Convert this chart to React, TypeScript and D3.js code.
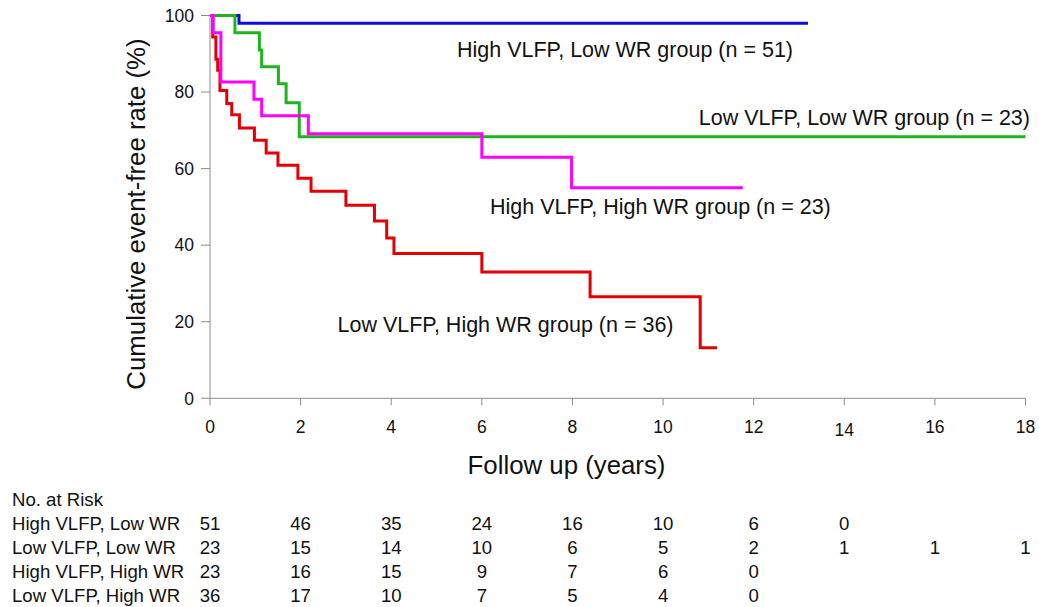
import React from "react";
import * as d3 from "d3";

// ---- Data ----
const xTicks = [0, 2, 4, 6, 8, 10, 12, 14, 16, 18];
const yTicks = [0, 20, 40, 60, 80, 100];

const groupNames = [
  "High VLFP, Low WR group (n = 51)",
  "Low VLFP, Low WR group (n = 23)",
  "High VLFP, High WR group (n = 23)",
  "Low VLFP, High WR group (n = 36)",
];
const groupColors = ["#0c0cdc", "#1eb41e", "#ff00ff", "#e40000"];

// Kaplan-Meier step curves: times (years) and event-free rate (%)
const highLowTimes = [0, 0.64, 13.2];
const highLowRates = [100, 98.0, 98.0];

const lowLowTimes = [0, 0.55, 1.09, 1.14, 1.51, 1.68, 1.97, 18];
const lowLowRates = [100, 95.5, 91.0, 86.6, 82.2, 77.2, 68.3, 68.3];

const highHighTimes = [0, 0.07, 0.24, 0.97, 1.14, 2.17, 6.0, 7.98, 11.76];
const highHighRates = [100, 95.5, 82.6, 78.1, 73.8, 69.1, 63.0, 55.0, 55.0];

const lowHighTimes = [0, 0.06, 0.13, 0.17, 0.22, 0.37, 0.48, 0.65, 0.98, 1.24, 1.5, 1.94, 2.23, 3.0, 3.63, 3.9, 4.06, 6.0, 8.39, 10.82, 11.19];
const lowHighRates = [100, 94.4, 88.6, 85.7, 80.4, 77.0, 74.1, 70.6, 67.4, 64.1, 60.9, 57.5, 54.1, 50.4, 46.3, 41.9, 37.8, 33.0, 26.5, 13.2, 13.2];

// Number at risk table
const riskTitle = "No. at Risk";
const riskLabels = ["High VLFP, Low WR", "Low VLFP, Low WR", "High VLFP, High WR", "Low VLFP, High WR"];
const riskHighLow = [51, 46, 35, 24, 16, 10, 6, 0];
const riskLowLow = [23, 15, 14, 10, 6, 5, 2, 1, 1, 1];
const riskHighHigh = [23, 16, 15, 9, 7, 6, 0];
const riskLowHigh = [36, 17, 10, 7, 5, 4, 0];

const yTitle = "Cumulative event-free rate (%)";
const xTitle = "Follow up (years)";

export default function App() {
  const W = 1039;
  const H = 607;
  const x = d3.scaleLinear().domain([0, 18]).range([210, 1025.5]);
  const y = d3.scaleLinear().domain([0, 100]).range([398.3, 15.5]);

  const series = [
    { t: highLowTimes, s: highLowRates, c: groupColors[0] },
    { t: lowHighTimes, s: lowHighRates, c: groupColors[3] },
    { t: lowLowTimes, s: lowLowRates, c: groupColors[1] },
    { t: highHighTimes, s: highHighRates, c: groupColors[2] },
  ];

  const line = d3
    .line<[number, number]>()
    .x((d) => x(d[0]))
    .y((d) => y(d[1]))
    .curve(d3.curveStepAfter);

  const risks = [riskHighLow, riskLowLow, riskHighHigh, riskLowHigh];

  const labelPos = [
    { x: 457, y: 57, anchor: "start" },
    { x: 1030, y: 125, anchor: "end" },
    { x: 490, y: 213.5, anchor: "start" },
    { x: 337.5, y: 331.5, anchor: "start" },
  ];

  const font = "'Liberation Sans', Arial, Helvetica, sans-serif";
  const axisColor = "#8c8c8c";
  const rowY0 = 529.5;
  const rowStep = 24.3;

  return (
    <svg
      width={W}
      height={H}
      style={{ position: "absolute", left: 0, top: 0, background: "#fff" }}
      fontFamily={font}
    >
      {/* axes */}
      <line x1={x(0)} x2={x(0)} y1={y(100)} y2={y(0)} stroke={axisColor} strokeWidth={1} />
      <line x1={x(0)} x2={x(18)} y1={y(0)} y2={y(0)} stroke={axisColor} strokeWidth={1} />
      {yTicks.map((v) => (
        <g key={"yt" + v}>
          <line x1={x(0) - 9} x2={x(0)} y1={y(v)} y2={y(v)} stroke={axisColor} strokeWidth={1} />
          <text x={x(0) - 16} y={y(v) + 6.3} textAnchor="end" fontSize={17.5} fill="#111">
            {v}
          </text>
        </g>
      ))}
      {xTicks.map((v) => (
        <g key={"xt" + v}>
          <line x1={x(v)} x2={x(v)} y1={y(0)} y2={y(0) + 7} stroke={axisColor} strokeWidth={1} />
          <text x={x(v)} y={v === 14 ? 436 : 433.3} textAnchor="middle" fontSize={17.5} fill="#111">
            {v}
          </text>
        </g>
      ))}
      <text
        transform={`translate(145,214) rotate(-90)`}
        textAnchor="middle"
        fontSize={25.8}
        fill="#111"
      >
        {yTitle}
      </text>
      <text x={566.5} y={474} textAnchor="middle" fontSize={25.8} fill="#111">
        {xTitle}
      </text>

      {/* curves */}
      {series.map((sr, i) => (
        <path
          key={"c" + i}
          d={line(sr.t.map((t, k) => [t, sr.s[k]] as [number, number])) || ""}
          fill="none"
          stroke={sr.c}
          strokeWidth={3}
          strokeLinejoin="miter"
          strokeLinecap="butt"
        />
      ))}

      {/* curve labels */}
      {groupNames.map((g, i) => (
        <text
          key={"gl" + i}
          x={labelPos[i].x}
          y={labelPos[i].y}
          textAnchor={labelPos[i].anchor as any}
          fontSize={21.5}
          fill="#111"
        >
          {g}
        </text>
      ))}

      {/* risk table */}
      <text x={12} y={506} fontSize={18.6} fill="#111">
        {riskTitle}
      </text>
      {riskLabels.map((lab, r) => (
        <g key={"rr" + r}>
          <text x={12} y={rowY0 + r * rowStep} fontSize={18.6} fill="#111">
            {lab}
          </text>
          {risks[r].map((v, k) => (
            <text
              key={"rv" + k}
              x={x(xTicks[k])}
              y={rowY0 + r * rowStep}
              textAnchor="middle"
              fontSize={18.6}
              fill="#111"
            >
              {v}
            </text>
          ))}
        </g>
      ))}
    </svg>
  );
}
